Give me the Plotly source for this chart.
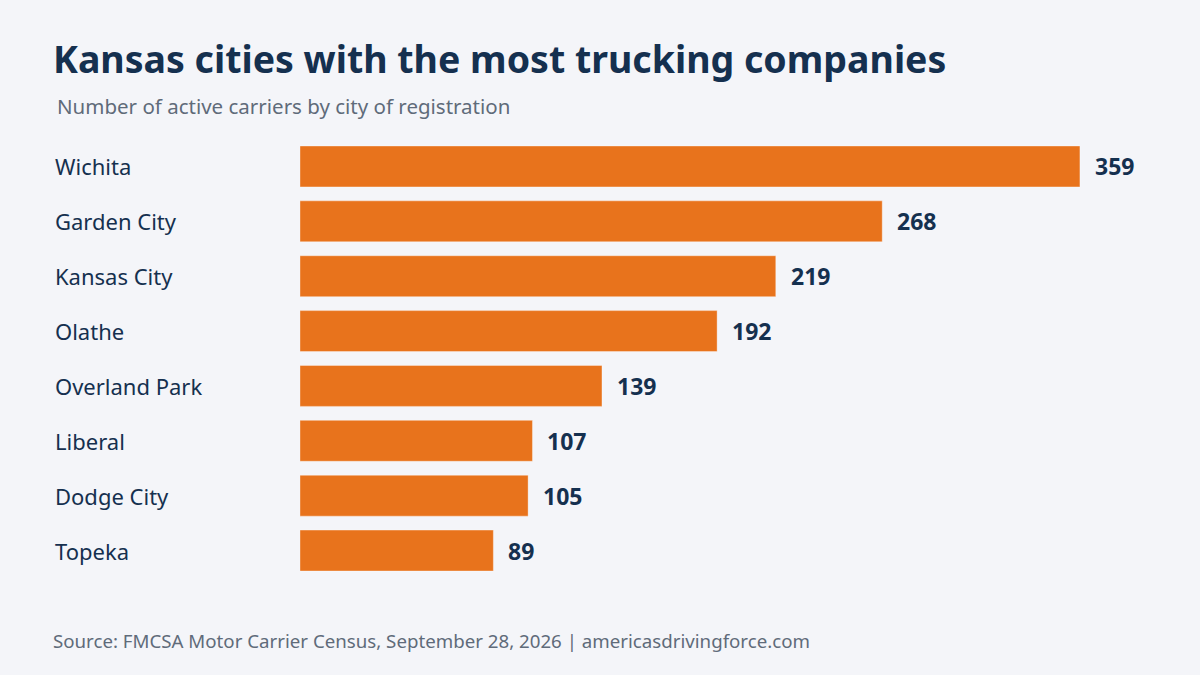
import plotly.graph_objects as go

cities = ["Wichita", "Garden City", "Kansas City", "Olathe", "Overland Park",
          "Liberal", "Dodge City", "Topeka"]
carriers = [359, 268, 219, 192, 139, 107, 105, 89]

title = "Kansas cities with the most trucking companies"
subtitle = "Number of active carriers by city of registration"
source = "Source: FMCSA Motor Carrier Census, September 28, 2026 | americasdrivingforce.com"

W, H = 1200, 675
ML, MR, MT, MB = 300, 31, 138.5, 96.5
PW = W - ML - MR
PH = H - MT - MB

FONT = "Noto Sans, Open Sans, sans-serif"
NAVY = "#15304f"
GRAY = "#5f6b7a"
BG = "#f4f5f9"
ORANGE = "#e8731c"

def px_x(px):
    return (px - ML) / PW

def px_y(py):
    return (H - MB - py) / PH

fig = go.Figure(go.Bar(
    x=carriers, y=cities, orientation="h",
    marker=dict(color=ORANGE, line=dict(color="rgba(255,255,255,0.35)", width=1)),
    hoverinfo="skip",
))

annotations = []
for c, v in zip(cities, carriers):
    annotations.append(dict(x=px_x(53), xref="paper", y=c, yref="y", text=c,
                            xanchor="left", yanchor="middle", showarrow=False,
                            font=dict(family=FONT, size=22, color=NAVY)))
    annotations.append(dict(x=v, xref="x", y=c, yref="y", text=f"<b>{v}</b>",
                            xanchor="left", yanchor="middle", xshift=13, showarrow=False,
                            font=dict(family=FONT, size=23, color=NAVY)))

annotations.append(dict(x=px_x(51), xref="paper", y=px_y(58), yref="paper",
                        text=f"<b>{title}</b>", xanchor="left", yanchor="middle",
                        showarrow=False, font=dict(family=FONT, size=37.5, color=NAVY)))
annotations.append(dict(x=px_x(55), xref="paper", y=px_y(105), yref="paper",
                        text=subtitle, xanchor="left", yanchor="middle",
                        showarrow=False, font=dict(family=FONT, size=20.5, color=GRAY)))
annotations.append(dict(x=px_x(51), xref="paper", y=px_y(641), yref="paper",
                        text=source, xanchor="left", yanchor="middle",
                        showarrow=False, font=dict(family=FONT, size=18.7, color=GRAY)))

fig.update_layout(
    width=W, height=H,
    margin=dict(l=ML, r=MR, t=MT, b=MB, pad=0),
    paper_bgcolor=BG, plot_bgcolor=BG,
    bargap=0.255,
    showlegend=False,
    xaxis=dict(range=[0, 400], visible=False, fixedrange=True),
    yaxis=dict(categoryorder="array", categoryarray=cities, autorange="reversed",
               showticklabels=False, showgrid=False, zeroline=False, showline=False,
               fixedrange=True),
    annotations=annotations,
)

fig.write_html("out.html", config={"displayModeBar": False},
               post_script="document.body.style.margin='0';document.body.style.background='" + BG + "';")
